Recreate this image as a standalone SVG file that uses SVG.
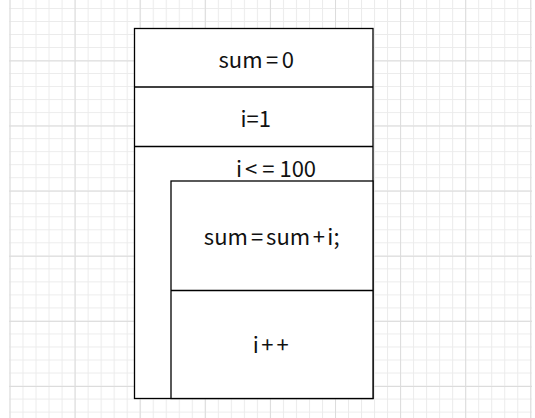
<svg xmlns="http://www.w3.org/2000/svg" width="535" height="418" viewBox="0 0 535 418">
<defs>
<pattern id="minor" x="9.5" y="8" width="13.02" height="13.02" patternUnits="userSpaceOnUse">
<path d="M0.5 0V13.02M0 0.5H13.02" stroke="#ebebeb" stroke-width="1" fill="none"/>
</pattern>
<pattern id="major" x="9.5" y="-4.6" width="65.1" height="65.1" patternUnits="userSpaceOnUse">
<path d="M0.5 0V65.1M0 0.5H65.1" stroke="#dcdcdc" stroke-width="1" fill="none"/>
</pattern>
<style>
.box{fill:#fff;stroke:#000;stroke-width:1.3}
.ln{stroke:#000;stroke-width:1.3;fill:none}
.t{font-family:"Noto Sans CJK SC","Noto Sans",sans-serif;font-size:22px;fill:#111;text-anchor:middle}
</style>
</defs>
<rect width="535" height="418" fill="#fff"/>
<rect x="9" y="0" width="523" height="418" fill="url(#minor)"/>
<rect x="9" y="0" width="523" height="418" fill="url(#major)"/>
<g id="connectors"/>
<g id="outer">
<rect class="box" x="134.5" y="28.5" width="238.5" height="370"/>
</g>
<g id="sum0">
<line class="ln" x1="134.5" y1="87" x2="373" y2="87"/>
<text class="t" x="256.3" y="67.5">sum<tspan dx="3.5">=</tspan><tspan dx="3.5">0</tspan></text>
</g>
<g id="i1">
<line class="ln" x1="134.5" y1="146.5" x2="373" y2="146.5"/>
<text class="t" x="255.7" y="126.5">i=1</text>
</g>
<g id="loop">
<text class="t" x="276" y="176.5">i<tspan dx="3">&lt;</tspan><tspan dx="5">=</tspan><tspan dx="5">100</tspan></text>
</g>
<g id="body">
<rect class="box" x="171" y="181" width="202" height="217.5"/>
<text class="t" x="271.7" y="245">sum<tspan dx="3">=</tspan><tspan dx="3">sum</tspan><tspan dx="2.5">+</tspan><tspan dx="2.5">i;</tspan></text>
</g>
<g id="inc">
<line class="ln" x1="171" y1="290.5" x2="373" y2="290.5"/>
<text class="t" x="270.8" y="352.5">i<tspan dx="2.5">+</tspan><tspan dx="3">+</tspan></text>
</g>
</svg>
